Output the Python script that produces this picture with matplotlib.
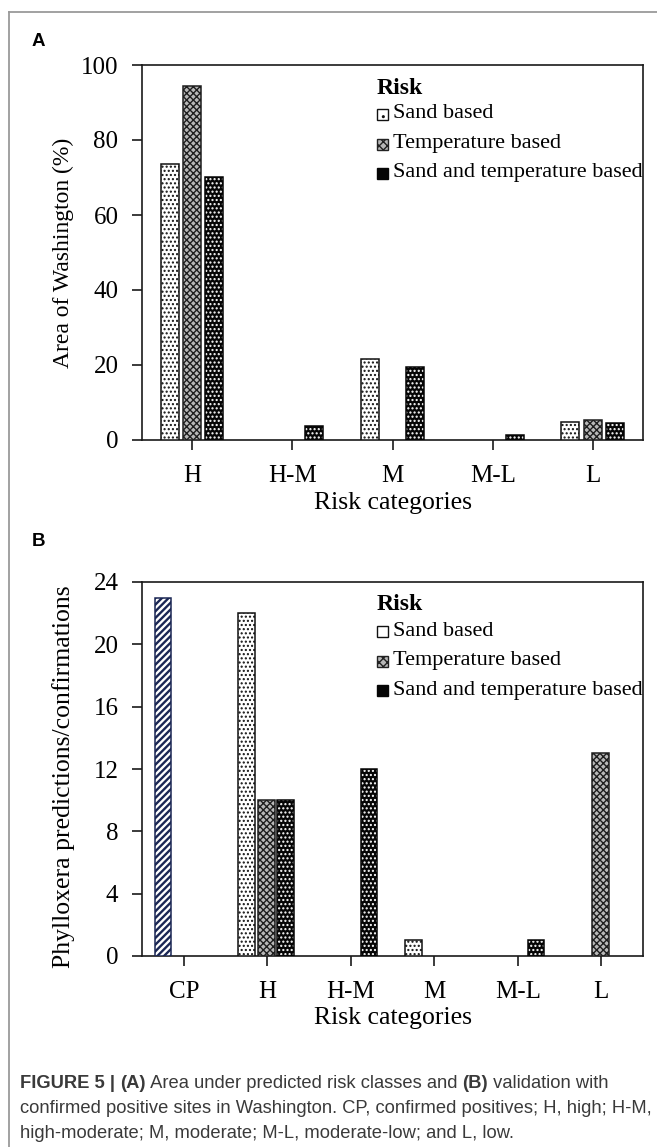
import matplotlib
matplotlib.use("Agg")
import matplotlib.pyplot as plt
from matplotlib.patches import Rectangle
from matplotlib.lines import Line2D
import numpy as np

# ---------------- data ----------------
series_names = ["Sand based", "Temperature based", "Sand and temperature based"]

cats_a = ["H", "H-M", "M", "M-L", "L"]
sand_a = [73.5, 0, 21.5, 0, 4.9]
temp_a = [94.5, 0, 0, 0, 5.2]
both_a = [70.0, 3.6, 19.5, 1.4, 4.4]
yticks_a = [0, 20, 40, 60, 80, 100]

cats_b = ["CP", "H", "H-M", "M", "M-L", "L"]
cp_b = [23, 0, 0, 0, 0, 0]
sand_b = [0, 22, 0, 1, 0, 0]
temp_b = [0, 10, 0, 0, 0, 13]
both_b = [0, 10, 12, 0, 1, 0]
yticks_b = [0, 4, 8, 12, 16, 20, 24]

ylabel_a = "Area of Washington (%)"
ylabel_b = "Phylloxera predictions/confirmations"
xlabel = "Risk categories"

# ---------------- style ----------------
W, H = 657, 1147
plt.rcParams["font.family"] = ["Liberation Serif", "DejaVu Serif"]
plt.rcParams["hatch.linewidth"] = 1.0
TICK_FS = 18
XLAB_FS = 18.5
LEG_FS = 16

fig = plt.figure(figsize=(W / 100, H / 100), dpi=100)


def fx(x):
    return x / W


def fy(y):
    return 1 - y / H


TEMP_FACE = "#b8b8b8"


def draw_bars(ax, x, vals, off, width, kind):
    x = np.asarray(x, dtype=float)
    v = np.asarray(vals, dtype=float)
    m = v > 0
    xs, vs = x[m] + off, v[m]
    if kind == "sand":
        ax.bar(xs, vs, width, facecolor="white", edgecolor="#111111",
               hatch="....", linewidth=1.1, zorder=3)
    elif kind == "temp":
        ax.bar(xs, vs, width, facecolor=TEMP_FACE, edgecolor="#1e1e1e",
               hatch="xxxxx", linewidth=1.1, zorder=3)
    elif kind == "both":
        ax.bar(xs, vs, width, facecolor="#050505", edgecolor="white",
               hatch="....", linewidth=0, zorder=3)
        ax.bar(xs, vs, width, fill=False, edgecolor="#050505",
               linewidth=1.1, zorder=4)
    elif kind == "cp":
        with plt.rc_context({"hatch.linewidth": 1.7}):
            ax.bar(xs, vs, width, facecolor="white", edgecolor="#1a2654",
                   hatch="/////", linewidth=1.1, zorder=3)


def style_axes(ax, cats, yticks, ylabel, ylab_fs):
    ax.set_xticks(np.arange(len(cats)))
    ax.set_xticklabels(cats, fontsize=TICK_FS)
    ax.set_xlim(-0.5, len(cats) - 0.5)
    ax.set_ylim(yticks[0], yticks[-1])
    ax.set_yticks(yticks)
    ax.set_yticklabels([str(t) for t in yticks], fontsize=TICK_FS)
    for s in ax.spines.values():
        s.set_linewidth(1.2)
        s.set_color("#1a1a1a")
    ax.tick_params(axis="both", direction="out", length=7, width=1.2,
                   color="#1a1a1a")
    ax.tick_params(axis="y", pad=10)
    ax.tick_params(axis="x", pad=11)
    ax.set_ylabel(ylabel, fontsize=ylab_fs)
    ax.yaxis.set_label_coords(-(142 - 63) / 501, 0.5)
    ax.yaxis.label.set_va("center")
    ax.set_xlabel(xlabel, fontsize=XLAB_FS)
    ax.xaxis.set_label_coords(0.5, -63 / 375)
    ax.xaxis.label.set_va("center")


def legend(y_title, y_rows, sand_hatch):
    fig.text(fx(377), fy(y_title), "Risk", fontsize=LEG_FS + 1, fontweight="bold",
             ha="left", va="center")
    specs = [
        dict(facecolor="white", edgecolor="#111111", hatch=sand_hatch),
        dict(facecolor=TEMP_FACE, edgecolor="#222222", hatch="xxxx"),
        dict(facecolor="#050505", edgecolor="#050505", hatch=None),
    ]
    for name, yy, sp in zip(series_names, y_rows, specs):
        r = Rectangle((fx(377), fy(yy + 6)), 11 / W, 11 / H,
                      transform=fig.transFigure, linewidth=1.0, **sp)
        fig.patches.append(r)
        fig.text(fx(393), fy(yy), name, fontsize=LEG_FS, ha="left", va="center")


# ---------------- panel A ----------------
axA = fig.add_axes([fx(142), fy(440), 501 / W, 375 / H])
xa = np.arange(len(cats_a))
draw_bars(axA, xa, sand_a, -0.225, 0.18, "sand")
draw_bars(axA, xa, temp_a, 0.0, 0.18, "temp")
draw_bars(axA, xa, both_a, 0.22, 0.18, "both")
style_axes(axA, cats_a, yticks_a, ylabel_a, 17)
legend(88, [114, 144, 173], "..")

# ---------------- panel B ----------------
axB = fig.add_axes([fx(142), fy(956), 501 / W, 374 / H])
xb = np.arange(len(cats_b))
draw_bars(axB, xb, cp_b, -0.25, 0.2, "cp")
draw_bars(axB, xb, sand_b, -0.25, 0.2, "sand")
draw_bars(axB, xb, temp_b, -0.01, 0.2, "temp")
draw_bars(axB, xb, both_b, 0.22, 0.2, "both")
style_axes(axB, cats_b, yticks_b, ylabel_b, 18.5)
axB.xaxis.set_label_coords(0.5, -62 / 374)
axB.yaxis.set_label_coords(-(142 - 64) / 501, 0.48)
legend(605, [631, 661, 690], None)

# panel letters
for lab, yy in [("A", 42), ("B", 542)]:
    fig.text(fx(32), fy(yy), lab, fontsize=13.5, fontweight="bold",
             family=["Liberation Sans", "DejaVu Sans"], ha="left", va="center")

# outer frame (left and top)
fig.add_artist(Line2D([fx(8.5), fx(8.5)], [fy(12), 0], transform=fig.transFigure,
                      color="#9a9a9a", linewidth=1.3))
fig.add_artist(Line2D([fx(8.5), 1], [fy(12), fy(12)], transform=fig.transFigure,
                      color="#9a9a9a", linewidth=1.3))

# caption
cap_family = ["Liberation Sans", "DejaVu Sans"]
cap_color = "#3a3a3a"
cap_fs = 13.2
lines = [
    [("FIGURE 5 | ", "bold"), ("(A)", "bold"),
     (" Area under predicted risk classes and ", "normal"), ("(B)", "bold"),
     (" validation with", "normal")],
    [("confirmed positive sites in Washington. CP, confirmed positives; H, high; H-M,", "normal")],
    [("high-moderate; M, moderate; M-L, moderate-low; and L, low.", "normal")],
]
cap_texts = []
for i, parts in enumerate(lines):
    base_y = 1088 + 25 * i
    row = []
    for txt, wt in parts:
        t = fig.text(fx(20), fy(base_y), txt, fontsize=cap_fs, fontweight=wt,
                     family=cap_family, color=cap_color, ha="left", va="baseline")
        row.append(t)
    cap_texts.append(row)

# place caption pieces side by side using renderer measurements
fig.canvas.draw()
renderer = fig.canvas.get_renderer()
for row in cap_texts:
    cur_x = None
    for t in row:
        if cur_x is not None:
            t.set_x(cur_x)
        bb = t.get_window_extent(renderer)
        cur_x = bb.x1 / W

fig.savefig("out.png", dpi=100)
